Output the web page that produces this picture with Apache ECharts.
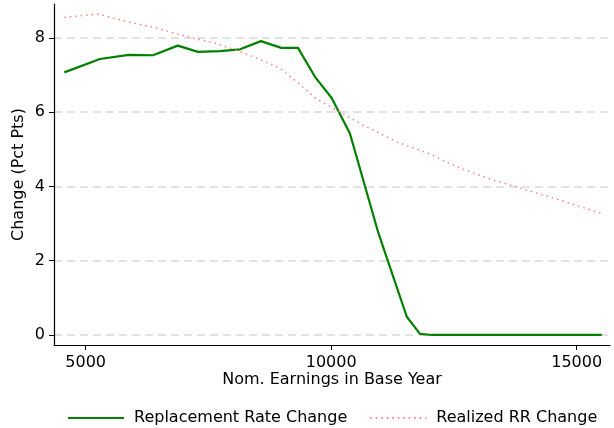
<!DOCTYPE html>
<html>
<head>
<meta charset="utf-8">
<script src="https://cdn.jsdelivr.net/npm/echarts@6/dist/echarts.min.js"></script>
<style>
  html, body { margin: 0; padding: 0; background: #fff; }
  #main { width: 614px; height: 428px; }
</style>
</head>
<body>
<div id="main"></div>
<script>
  // nominal earnings (x) and change in pct pts (y)
  var rrEarn = [4564, 5291, 5876, 6371, 6874, 7287, 7735, 8143, 8570, 8984, 9324, 9670, 10010, 10380, 10962, 11540, 11808, 12050, 12290, 12530, 12770, 13010, 13250, 13490, 13730, 13970, 14210, 14450, 14690, 14930, 15170, 15410, 15510];
  var rrChange = [7.07, 7.43, 7.54, 7.53, 7.79, 7.62, 7.64, 7.69, 7.91, 7.73, 7.73, 6.95, 6.38, 5.43, 2.74, 0.49, 0.03, 0, 0, 0, 0, 0, 0, 0, 0, 0, 0, 0, 0, 0, 0, 0, 0];

  var realEarn = [4564, 5257, 5766, 6446, 7124, 7599, 8143, 8617, 8957, 9297, 9705, 9976, 10654, 11334, 12012, 12623, 13302, 13982, 14660, 15510];
  var realChange = [8.55, 8.64, 8.46, 8.26, 8.01, 7.87, 7.63, 7.38, 7.18, 6.82, 6.35, 6.15, 5.65, 5.20, 4.87, 4.49, 4.17, 3.90, 3.63, 3.27];

  var xTicks = [5000, 10000, 15000];
  var yTicks = [0, 2, 4, 6, 8];

  function pairs(xs, ys) {
    return xs.map(function (x, i) { return [x, ys[i]]; });
  }

  var font = "DejaVu Sans";
  var chart = echarts.init(document.getElementById("main"));
  chart.setOption({
    animation: false,
    textStyle: { fontFamily: font },
    grid: { left: 54, right: 4, top: 4, bottom: 83 },
    legend: {
      left: 62,
      top: 405,
      itemWidth: 56,
      itemHeight: 14,
      itemGap: 22,
      itemStyle: { opacity: 0 },
      textStyle: { fontFamily: font, fontSize: 16, color: "#000", padding: [0, 0, 0, 5] },
      data: ["Replacement Rate Change", "Realized RR Change"]
    },
    xAxis: {
      type: "value",
      min: 4355,
      max: 15678,
      name: "Nom. Earnings in Base Year",
      nameLocation: "middle",
      nameGap: 27,
      nameMoveOverlap: false,
      nameTextStyle: { fontFamily: font, fontSize: 16, color: "#000" },
      axisLine: { onZero: false, lineStyle: { color: "#000", width: 1.2 } },
      axisTick: { customValues: xTicks, length: 5, lineStyle: { color: "#000" } },
      axisLabel: {
        customValues: xTicks, fontSize: 16, color: "#000", margin: 10,
        formatter: function (v) { return String(v); }
      },
      splitLine: { show: false }
    },
    yAxis: {
      type: "value",
      min: -0.27,
      max: 8.91,
      name: "Change (Pct Pts)",
      nameLocation: "middle",
      nameGap: 27,
      nameMoveOverlap: false,
      nameTextStyle: { fontFamily: font, fontSize: 16, color: "#000" },
      axisLine: { show: true, onZero: false, lineStyle: { color: "#000", width: 1.2 } },
      axisTick: { show: true, customValues: yTicks, length: 5, lineStyle: { color: "#000" } },
      axisLabel: { customValues: yTicks, fontSize: 16, color: "#000", margin: 9 },
      splitLine: { show: true, lineStyle: { color: "#d9d9d9", type: [8, 5], width: 1.5 } }
    },
    series: [
      {
        name: "Replacement Rate Change",
        type: "line",
        symbol: "none",
        color: "#008000",
        lineStyle: { color: "#008000", width: 2.2 },
        data: pairs(rrEarn, rrChange)
      },
      {
        name: "Realized RR Change",
        type: "line",
        symbol: "none",
        color: "#ff8080",
        lineStyle: { color: "#ff8080", width: 1.5, type: [1.5, 4] },
        data: pairs(realEarn, realChange)
      }
    ]
  });
</script>
</body>
</html>
